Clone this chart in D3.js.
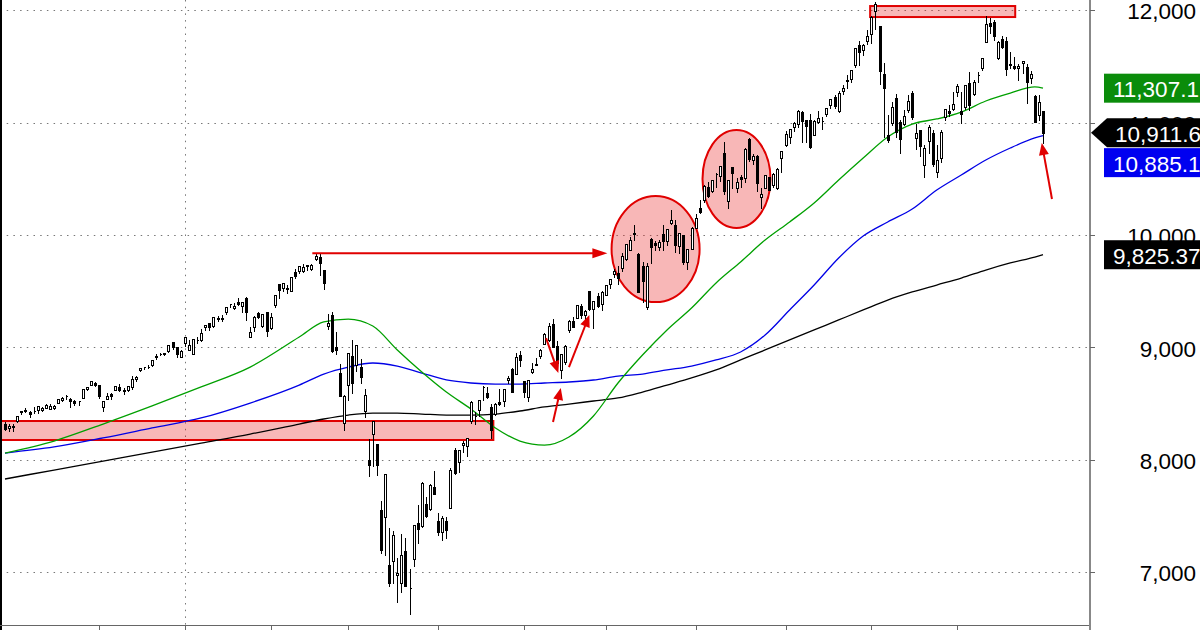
<!DOCTYPE html>
<html><head><meta charset="utf-8">
<script src="https://cdn.jsdelivr.net/npm/d3@7"></script>
<style>html,body{margin:0;padding:0;background:#fff}svg{display:block}</style>
</head><body>
<svg id="chart" width="1200" height="630"></svg>
<script>
// ---------------- DATA ----------------
const dates = [
"2019-10-29","2019-10-30","2019-10-31",
"2019-11-01","2019-11-04","2019-11-05","2019-11-06","2019-11-07","2019-11-08","2019-11-11","2019-11-12","2019-11-13","2019-11-14","2019-11-15","2019-11-18","2019-11-19","2019-11-20","2019-11-21","2019-11-22","2019-11-25","2019-11-26","2019-11-27","2019-11-29",
"2019-12-02","2019-12-03","2019-12-04","2019-12-05","2019-12-06","2019-12-09","2019-12-10","2019-12-11","2019-12-12","2019-12-13","2019-12-16","2019-12-17","2019-12-18","2019-12-19","2019-12-20","2019-12-23","2019-12-24","2019-12-26","2019-12-27","2019-12-30","2019-12-31",
"2020-01-02","2020-01-03","2020-01-06","2020-01-07","2020-01-08","2020-01-09","2020-01-10","2020-01-13","2020-01-14","2020-01-15","2020-01-16","2020-01-17","2020-01-21","2020-01-22","2020-01-23","2020-01-24","2020-01-27","2020-01-28","2020-01-29","2020-01-30","2020-01-31",
"2020-02-03","2020-02-04","2020-02-05","2020-02-06","2020-02-07","2020-02-10","2020-02-11","2020-02-12","2020-02-13","2020-02-14","2020-02-18","2020-02-19","2020-02-20","2020-02-21","2020-02-24","2020-02-25","2020-02-26","2020-02-27","2020-02-28",
"2020-03-02","2020-03-03","2020-03-04","2020-03-05","2020-03-06","2020-03-09","2020-03-10","2020-03-11","2020-03-12","2020-03-13","2020-03-16","2020-03-17","2020-03-18","2020-03-19","2020-03-20","2020-03-23","2020-03-24","2020-03-25","2020-03-26","2020-03-27","2020-03-30","2020-03-31",
"2020-04-01","2020-04-02","2020-04-03","2020-04-06","2020-04-07","2020-04-08","2020-04-09","2020-04-13","2020-04-14","2020-04-15","2020-04-16","2020-04-17","2020-04-20","2020-04-21","2020-04-22","2020-04-23","2020-04-24","2020-04-27","2020-04-28","2020-04-29","2020-04-30",
"2020-05-01","2020-05-04","2020-05-05","2020-05-06","2020-05-07","2020-05-08","2020-05-11","2020-05-12","2020-05-13","2020-05-14","2020-05-15","2020-05-18","2020-05-19","2020-05-20","2020-05-21","2020-05-22","2020-05-26","2020-05-27","2020-05-28","2020-05-29",
"2020-06-01","2020-06-02","2020-06-03","2020-06-04","2020-06-05","2020-06-08","2020-06-09","2020-06-10","2020-06-11","2020-06-12","2020-06-15","2020-06-16","2020-06-17","2020-06-18","2020-06-19","2020-06-22","2020-06-23","2020-06-24","2020-06-25","2020-06-26","2020-06-29","2020-06-30",
"2020-07-01","2020-07-02","2020-07-06","2020-07-07","2020-07-08","2020-07-09","2020-07-10","2020-07-13","2020-07-14","2020-07-15","2020-07-16","2020-07-17","2020-07-20","2020-07-21","2020-07-22","2020-07-23","2020-07-24","2020-07-27","2020-07-28","2020-07-29","2020-07-30","2020-07-31",
"2020-08-03","2020-08-04","2020-08-05","2020-08-06","2020-08-07","2020-08-10","2020-08-11","2020-08-12","2020-08-13","2020-08-14","2020-08-17","2020-08-18","2020-08-19","2020-08-20","2020-08-21","2020-08-24","2020-08-25","2020-08-26","2020-08-27","2020-08-28","2020-08-31",
"2020-09-01","2020-09-02","2020-09-03","2020-09-04","2020-09-08","2020-09-09","2020-09-10","2020-09-11","2020-09-14","2020-09-15","2020-09-16","2020-09-17","2020-09-18","2020-09-21","2020-09-22","2020-09-23","2020-09-24","2020-09-25","2020-09-28","2020-09-29","2020-09-30",
"2020-10-01","2020-10-02","2020-10-05","2020-10-06","2020-10-07","2020-10-08","2020-10-09","2020-10-12","2020-10-13","2020-10-14","2020-10-15","2020-10-16","2020-10-19","2020-10-20","2020-10-21","2020-10-22","2020-10-23","2020-10-26","2020-10-27","2020-10-28","2020-10-29","2020-10-30"
];
const opens = [
8320,8280,8305,
8345,8430,8440,8430,8435,8445,8440,8465,8455,8460,8510,8535,8570,8540,8520,8520,8550,8635,8670,8680,
8667,8470,8546,8585,8620,8650,8620,8625,8650,8720,8800,8825,8830,8840,8915,8944,8945,8965,9050,9005,8919,
9039,8977,8944,9070,9068,9183,9218,9189,9260,9252,9313,9390,9355,9403,9368,9442,9093,9185,9307,9192,9316,
9174,9379,9563,9531,9530,9502,9668,9679,9681,9728,9700,9790,9806,9690,9190,9292,9006,8775,8330,
8667,8923,8843,8829,8435,8000,8230,8141,7551,7494,7067,7097,6973,6901,7193,6862,7121,7436,7414,7606,7560,7760,
7459,7362,7460,7575,8086,7979,8137,8121,8349,8393,8445,8653,8591,8473,8408,8514,8525,8709,8806,8762,8937,
8699,8564,8781,8843,8924,9034,9064,9212,9016,8803,8874,9160,9237,9264,9370,9287,9501,9346,9457,9383,
9471,9564,9653,9667,9703,9783,9867,10012,9835,9729,9357,9962,9933,9893,10012,9946,10106,10086,9899,10001,9765,9875,
10066,10241,10315,10432,10389,10540,10525,10731,10301,10605,10415,10515,10505,10855,10669,10705,10337,10423,10513,10443,10421,10685,
10801,10873,10958,10984,11098,11021,11026,10889,11006,11015,11080,11159,11227,11107,11283,11372,11391,11512,11694,11646,11723,
11791,11991,11861,11429,10895,10998,11218,11003,10986,11117,11266,10861,10931,10620,10838,10910,10564,10688,11052,11107,11122,
11275,11101,11137,11351,11259,11422,11485,11721,11889,11897,11575,11746,11730,11521,11505,11489,11527,11493,11396,11239,11065,11104
];
const highs = [
8333,8318,8315,
8390,8438,8460,8432,8470,8477,8468,8500,8495,8485,8542,8560,8576,8550,8535,8525,8633,8650,8706,8690,
8668,8525,8592,8595,8658,8672,8640,8660,8745,8750,8822,8830,8840,8890,8946,8955,8955,9023,9052,9006,8975,
9093,9065,9072,9092,9168,9204,9219,9274,9276,9292,9358,9390,9392,9440,9405,9451,9186,9276,9320,9300,9318,
9304,9470,9568,9573,9555,9629,9701,9726,9739,9731,9740,9838,9833,9693,9297,9316,9141,8855,8581,
8953,9071,9019,8899,8631,8185,8344,8142,7636,7875,7393,7363,7124,7340,7303,7028,7419,7600,7800,7670,7784,7904,
7532,7501,7495,7929,8109,8091,8167,8193,8521,8427,8533,8658,8650,8497,8508,8627,8635,8750,8816,8949,8965,
8700,8712,8862,8909,8985,9126,9215,9255,9054,8944,9018,9244,9269,9382,9389,9332,9504,9413,9487,9505,
9553,9608,9695,9721,9845,9925,9979,10087,9843,9760,9751,9972,9948,9954,10086,10057,10221,10132,10017,10003,9875,10075,
10184,10310,10449,10469,10493,10552,10618,10824,10492,10605,10509,10538,10772,10867,10722,10712,10419,10537,10521,10555,10600,10747,
10923,10941,11002,11109,11101,11025,11076,11021,11101,11050,11131,11213,11247,11278,11331,11420,11468,11666,11731,11696,11829,
11946,12074,11862,11530,11070,11186,11258,11022,11112,11245,11282,10990,10937,10798,10976,10939,10803,10931,11124,11157,11270,
11345,11273,11334,11451,11377,11447,11580,11952,11929,11910,11726,11773,11759,11626,11582,11523,11552,11521,11460,11247,11247,11105
];
const lows = [
8270,8255,8260,
8335,8410,8425,8380,8420,8420,8435,8460,8450,8450,8503,8520,8540,8470,8485,8490,8550,8625,8665,8660,
8547,8437,8540,8541,8618,8615,8590,8610,8630,8700,8795,8805,8815,8835,8902,8935,8936,8963,8985,8915,8915,
9010,8975,8944,9043,9060,9153,9156,9180,9232,9236,9302,9360,9345,9379,9320,9248,9091,9148,9259,9183,9100,
9169,9357,9437,9505,9488,9499,9621,9667,9676,9691,9690,9777,9648,9523,9165,8958,8941,8566,8264,
8533,8591,8789,8681,8384,7856,7946,7868,7175,7153,6882,6905,6739,6826,6877,6631,7054,7264,7406,7491,7554,7693,
7332,7286,7301,7575,7878,7893,8070,8031,8330,8315,8387,8530,8555,8191,8396,8487,8482,8687,8603,8762,8839,
8564,8527,8774,8841,8907,9032,9059,9000,8797,8727,8855,9139,9185,9263,9260,9248,9331,9170,9359,9335,
9468,9525,9631,9569,9680,9777,9865,9952,9493,9403,9345,9756,9867,9870,9867,9913,10096,9849,9845,9744,9702,9873,
10066,10194,10295,10343,10385,10428,10478,10365,10240,10418,10384,10426,10475,10658,10636,10390,10243,10420,10402,10431,10411,10565,
10795,10821,10925,10966,10826,10829,10773,10889,10998,10943,11058,11127,11131,11094,11258,11307,11366,11497,11517,11604,11696,
11713,11837,11340,10876,10830,10977,10875,10730,10976,11097,11036,10763,10705,10519,10728,10617,10520,10648,11020,11063,11112,
11239,10997,11123,11117,11247,11366,11470,11718,11798,11736,11565,11669,11428,11490,11474,11376,11443,11177,11354,11004,11022,10822
];
const closes = [
8276.85,8303.98,8292.36,
8386.40,8433.20,8434.68,8410.63,8434.52,8475.31,8464.28,8486.09,8482.10,8479.02,8540.83,8549.94,8570.66,8526.73,8506.21,8519.88,8632.49,8647.93,8705.18,8665.47,
8567.99,8520.64,8566.67,8570.70,8656.53,8621.83,8616.18,8654.05,8717.32,8734.88,8814.23,8823.36,8827.74,8887.22,8924.96,8945.65,8952.88,9022.39,9006.62,8945.99,8972.60,
9092.19,9020.77,9071.47,9068.58,9129.24,9203.43,9178.86,9273.93,9251.33,9258.70,9357.13,9388.94,9370.81,9383.77,9402.48,9314.91,9139.31,9269.68,9275.16,9298.93,9150.94,
9273.40,9467.97,9508.68,9572.15,9520.51,9628.39,9638.94,9725.96,9711.97,9731.18,9732.74,9817.18,9750.97,9576.59,9221.28,8965.61,8980.78,8566.48,8567.37,
8952.17,8684.09,9018.09,8738.60,8575.62,7950.68,8344.25,7952.05,7201.80,7874.88,6904.59,7334.78,6989.84,7150.58,6879.52,6860.67,7417.86,7384.30,7797.54,7502.38,7774.15,7700.10,
7360.58,7487.31,7373.08,7913.24,7887.26,8090.90,8153.58,8192.42,8515.74,8393.18,8532.36,8650.14,8560.73,8263.23,8495.38,8494.75,8634.52,8730.16,8607.73,8914.71,8889.55,
8604.95,8710.72,8809.12,8854.39,8979.66,9121.32,9192.34,9002.55,8863.17,8943.72,9014.56,9234.83,9185.10,9375.78,9284.88,9324.59,9340.22,9412.36,9368.99,9489.87,
9552.05,9608.38,9682.91,9615.81,9814.08,9924.75,9953.75,10020.35,9492.73,9588.81,9726.02,9895.87,9910.53,9943.05,9946.12,10056.48,10131.37,9909.17,10017.00,9757.22,9874.15,10058.77,
10154.63,10207.63,10433.65,10343.89,10492.50,10547.75,10617.44,10390.84,10488.58,10550.49,10473.83,10503.19,10767.09,10680.36,10706.13,10461.42,10363.18,10536.27,10402.09,10542.94,10587.81,10745.27,
10902.80,10941.17,10998.40,11108.07,11010.98,10968.36,10782.82,11012.24,11042.50,11019.30,11129.72,11210.84,11146.46,11264.95,11311.80,11379.72,11466.47,11665.06,11625.34,11695.63,11775.46,
11939.67,12056.44,11458.10,11313.13,10847.69,11141.56,10919.59,10853.55,11056.65,11190.32,11050.47,10910.28,10793.28,10778.80,10963.64,10632.99,10672.27,10913.56,11117.53,11085.25,11167.51,
11326.51,11075.02,11332.49,11154.60,11364.60,11420.98,11579.94,11876.26,11863.90,11768.73,11713.87,11671.56,11478.88,11516.49,11484.69,11506.01,11548.28,11358.94,11431.35,11004.87,11185.59,10911.59
];

const maIdx  = [0,12,24,36,48,60,72,78,84,90,96,102,108,114,120,126,132,138,144,150,156,162,168,174,180,186,192,198,204,210,216,222,228,234,240,246,252,254];
const maGreen = [8061,8168,8319,8480,8649,8826,9093,9227,9253,9191,8978,8782,8604,8453,8284,8168,8132,8204,8391,8684,8933,9156,9351,9574,9761,9956,10117,10286,10490,10686,10873,10988,11033,11095,11193,11264,11318,11307.1];
const maBlue  = [8061,8115,8195,8284,8373,8506,8666,8764,8826,8862,8835,8773,8711,8684,8675,8675,8684,8693,8711,8746,8764,8800,8835,8889,8960,9111,9334,9556,9796,9992,10117,10232,10401,10535,10668,10775,10864,10885.1];
const maBlack = [7830,7910,7990,8070,8150,8230,8319,8364,8399,8417,8417,8408,8399,8399,8408,8435,8471,8497,8524,8551,8604,8666,8729,8800,8889,8978,9067,9156,9245,9334,9422,9494,9556,9618,9689,9752,9805,9825.37];

const yTicks = [7000,8000,9000,10000,11000,12000];
const yTickLabels = ["7,000","8,000","9,000","10,000","11,000","12,000"];
const monthTicks = ["2019-12-02","2020-01-02","2020-02-03","2020-03-02","2020-04-01","2020-05-01","2020-06-01","2020-07-01","2020-08-03","2020-09-01","2020-10-01"];
const yearStart = ["2020-01-02"];

const tagValues = [11307.1, 10911.6, 10885.1, 9825.37];
const tagLabels = ["11,307.1","10,911.6","10,885.1","9,825.37"];

// annotations in data coordinates (bar index, price)
const zoneRects = [ {i0:-1.3, i1:119.5, v0:8177, v1:8346}, {i0:211.7, i1:247.2, v0:11940, v1:12038} ];
const zoneEllipses = [ {i:159.2, v:9876, rx:44, ry:53}, {i:179.0, v:10499, rx:34, ry:49} ];
const hLine = {i0:75.2, i1:147.4, v:9838};
const arrows = [
  {i0:132.4, v0:9084, i1:135.4, v1:8773},
  {i0:138.0, v0:8826, i1:143.0, v1:9289},
  {i0:134.1, v0:8337, i1:136.0, v1:8640},
  {i0:256.2, v0:10321, i1:253.7, v1:10819}
];

// ---------------- DRAW ----------------
const svg = d3.select("#chart");
const AXX = 1090, BOT = 625;
const n = dates.length;
const x = d3.scaleLinear().domain([0, n - 1]).range([5, 1043]);
const y = d3.scaleLinear().domain([7000, 12000]).range([572.3, 10.3]);
const idx = d => dates.indexOf(d);
const RED = "#e00000";
const FONT = "'Liberation Sans', Arial, sans-serif";

// gridlines
const grid = svg.append("g");
grid.selectAll("line.h").data(yTicks).join("line")
  .attr("x1", 0).attr("x2", AXX)
  .attr("y1", d => Math.round(y(d)) + 0.5).attr("y2", d => Math.round(y(d)) + 0.5)
  .attr("stroke", "#777").attr("stroke-width", 1).attr("stroke-dasharray", "1.5,5.2");
grid.selectAll("line.v").data(yearStart).join("line")
  .attr("x1", d => Math.round(x(idx(d))) + 0.5).attr("x2", d => Math.round(x(idx(d))) + 0.5)
  .attr("y1", 0).attr("y2", BOT)
  .attr("stroke", "#777").attr("stroke-width", 1).attr("stroke-dasharray", "1.5,5.2");

// annotation zones
const ann = svg.append("g");
ann.selectAll("rect").data(zoneRects).join("rect")
  .attr("x", d => Math.max(0, x(d.i0))).attr("y", d => y(d.v1))
  .attr("width", d => x(d.i1) - Math.max(0, x(d.i0))).attr("height", d => y(d.v0) - y(d.v1))
  .attr("fill", "rgba(232,30,30,0.32)").attr("stroke", RED).attr("stroke-width", 2);
ann.selectAll("ellipse").data(zoneEllipses).join("ellipse")
  .attr("cx", d => x(d.i)).attr("cy", d => y(d.v)).attr("rx", d => d.rx).attr("ry", d => d.ry)
  .attr("fill", "rgba(232,30,30,0.32)").attr("stroke", RED).attr("stroke-width", 2);

// moving averages
const maLine = vals => d3.line().x((d, k) => x(maIdx[k])).y(d => y(d)).curve(d3.curveMonotoneX)(vals);
const maG = svg.append("g").attr("fill", "none").attr("stroke-width", 1.3);
maG.append("path").attr("d", maLine(maBlack)).attr("stroke", "#000");
maG.append("path").attr("d", maLine(maBlue)).attr("stroke", "#0000e6");
maG.append("path").attr("d", maLine(maGreen)).attr("stroke", "#00a000");

// candles
const cg = svg.append("g").attr("shape-rendering", "crispEdges");
const bars = d3.range(n);
cg.selectAll("line").data(bars).join("line")
  .attr("x1", i => Math.round(x(i)) + 0.5).attr("x2", i => Math.round(x(i)) + 0.5)
  .attr("y1", i => Math.round(y(highs[i]))).attr("y2", i => Math.round(y(lows[i])) + 1)
  .attr("stroke", "#000").attr("stroke-width", 1);
cg.selectAll("path").data(bars).join("path")
  .attr("d", i => {
    const p = Math.round(x(i));
    const t = Math.round(y(Math.max(opens[i], closes[i]))) + 0.5;
    const b = Math.round(y(Math.min(opens[i], closes[i]))) + 0.5;
    return `M${p - 0.5},${t}H${p + 1.5}V${b}H${p - 0.5}Z`;
  })
  .attr("fill", i => closes[i] >= opens[i] ? "#fff" : "#000")
  .attr("stroke", "#000").attr("stroke-width", 1);

// red arrows
const ag = svg.append("g");
function arrow(x1, y1, x2, y2, len, hw) {
  const dx = x2 - x1, dy = y2 - y1, L = Math.hypot(dx, dy), ux = dx / L, uy = dy / L;
  const bx = x2 - ux * len, by = y2 - uy * len;
  ag.append("line").attr("x1", x1).attr("y1", y1).attr("x2", bx + ux).attr("y2", by + uy)
    .attr("stroke", RED).attr("stroke-width", 2);
  ag.append("path").attr("d", `M${x2},${y2}L${bx - uy * hw},${by + ux * hw}L${bx + uy * hw},${by - ux * hw}Z`).attr("fill", RED);
}
arrow(x(hLine.i0), y(hLine.v), x(hLine.i1), y(hLine.v), 15, 5);
arrows.forEach(a => arrow(x(a.i0), y(a.v0), x(a.i1), y(a.v1), 12, 5));

// axes
const ax = svg.append("g").attr("shape-rendering", "crispEdges");
ax.append("line").attr("x1", 0.75).attr("x2", 0.75).attr("y1", 0).attr("y2", 630).attr("stroke", "#000").attr("stroke-width", 1.5);
ax.append("line").attr("x1", 0).attr("x2", AXX).attr("y1", BOT + 0.5).attr("y2", BOT + 0.5).attr("stroke", "#666").attr("stroke-width", 1.5);
ax.selectAll("line.mt").data(monthTicks).join("line")
  .attr("x1", d => Math.round(x(idx(d))) + 0.5).attr("x2", d => Math.round(x(idx(d))) + 0.5)
  .attr("y1", BOT).attr("y2", 630).attr("stroke", "#666").attr("stroke-width", 1.5);
ax.append("line").attr("x1", AXX).attr("x2", AXX).attr("y1", 0).attr("y2", 630).attr("stroke", "#888").attr("stroke-width", 2);
ax.selectAll("line.yt").data(yTicks).join("line")
  .attr("x1", AXX).attr("x2", AXX + 5)
  .attr("y1", d => Math.round(y(d)) + 0.5).attr("y2", d => Math.round(y(d)) + 0.5)
  .attr("stroke", "#666").attr("stroke-width", 1);

svg.append("g").selectAll("text").data(yTicks).join("text")
  .attr("x", 1196).attr("y", d => y(d) + 9)
  .attr("text-anchor", "end").attr("font-family", FONT).attr("font-size", 22.5).attr("fill", "#000")
  .text((d, k) => yTickLabels[k]);

// price tags
const tagColors = ["#0a8c0a", "#000", "#0000f0", "#000"];
const TH = 29;
const tags = tagValues.map((v, k) => ({v, k, cy: y(v)}));
const order = tags.slice().sort((a, b) => a.cy - b.cy);
for (let j = 1; j < order.length; j++) {
  const minC = order[j - 1].cy + TH + 1;
  if (order[j].cy < minC) order[j].cy = minC;
}
const tg = svg.append("g");
tags.forEach(t => {
  const top = t.cy - TH / 2, bot = t.cy + TH / 2;
  if (t.k === 1) {
    tg.append("path").attr("d", `M${AXX + 1},${y(t.v)}L1107,${top}H1200V${bot}H1107Z`).attr("fill", tagColors[t.k]);
  } else {
    tg.append("rect").attr("x", 1104).attr("y", top).attr("width", 96).attr("height", TH).attr("fill", tagColors[t.k]);
  }
  tg.append("text").attr("x", t.k === 1 ? 1115 : 1113).attr("y", t.cy + 9)
    .attr("font-family", FONT).attr("font-size", 22.5).attr("fill", "#fff")
    .text(tagLabels[t.k]);
});
</script>
</body></html>
